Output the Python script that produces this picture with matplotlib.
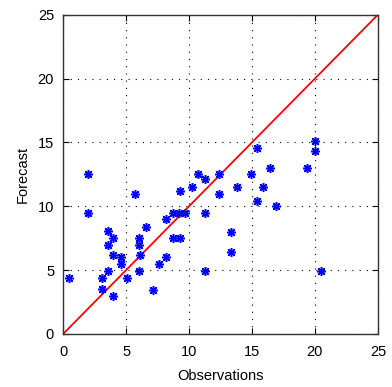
import matplotlib
matplotlib.use("Agg")
import matplotlib.pyplot as plt
import numpy as np

plt.rcParams['font.family'] = ['Liberation Sans', 'DejaVu Sans']

observations = [0.45, 2.0, 2.0, 3.1, 3.1, 3.55, 3.55, 3.55, 4.0, 4.0, 4.0, 4.6, 4.6,
                5.05, 5.7, 6.05, 6.05, 6.1, 6.05, 6.6, 7.15, 7.65, 8.2, 8.2, 8.7,
                8.75, 9.2, 9.3, 9.3, 9.7, 10.2, 10.75, 11.3, 11.3, 11.3, 12.35,
                12.35, 13.3, 13.3, 13.85, 14.9, 15.4, 15.4, 15.85, 16.4, 16.9,
                19.4, 20.0, 20.0, 20.5]
forecast = [4.4, 12.5, 9.5, 4.4, 3.5, 8.05, 7.0, 4.9, 7.5, 6.2, 2.95, 6.0, 5.5,
            4.4, 11.0, 7.5, 7.0, 6.2, 4.95, 8.4, 3.45, 5.5, 9.0, 6.05, 9.5,
            7.5, 9.5, 7.5, 11.2, 9.5, 11.5, 12.5, 12.1, 9.5, 4.95, 12.5,
            11.0, 8.0, 6.4, 11.5, 12.5, 14.6, 10.45, 11.5, 13.0, 10.0,
            13.0, 15.1, 14.3, 4.95]
ticks = [0, 5, 10, 15, 20, 25]
line_x = [0, 25]
line_y = [0, 25]

fig = plt.figure(figsize=(3.92, 3.87), dpi=100)
ax = fig.add_axes([0.161, 0.137, 0.803, 0.825])

ax.plot(line_x, line_y, color='red', linewidth=1.3, zorder=2)
ax.plot(observations, forecast, linestyle='none', marker=(8, 2, 0), markersize=6.5,
        markeredgecolor='blue', markeredgewidth=1.1, color='blue', zorder=3)

ax.set_xlim(0, 25)
ax.set_ylim(0, 25)
ax.set_xticks(ticks)
ax.set_yticks(ticks)
ax.grid(True, linestyle=(0, (1, 5.5)), color='black', linewidth=0.8)
ax.tick_params(direction='in', top=True, right=True, labelsize=10.5, length=4,
               width=0.8)
ax.tick_params(axis='x', pad=8)
ax.tick_params(axis='y', pad=6.5)
for s in ax.spines.values():
    s.set_linewidth(1.0)
    s.set_color('#333333')
ax.set_xlabel('Observations', fontsize=10.5, labelpad=7)
ax.set_ylabel('Forecast', fontsize=10.5, labelpad=5.5)

fig.savefig('out.png', dpi=100)
